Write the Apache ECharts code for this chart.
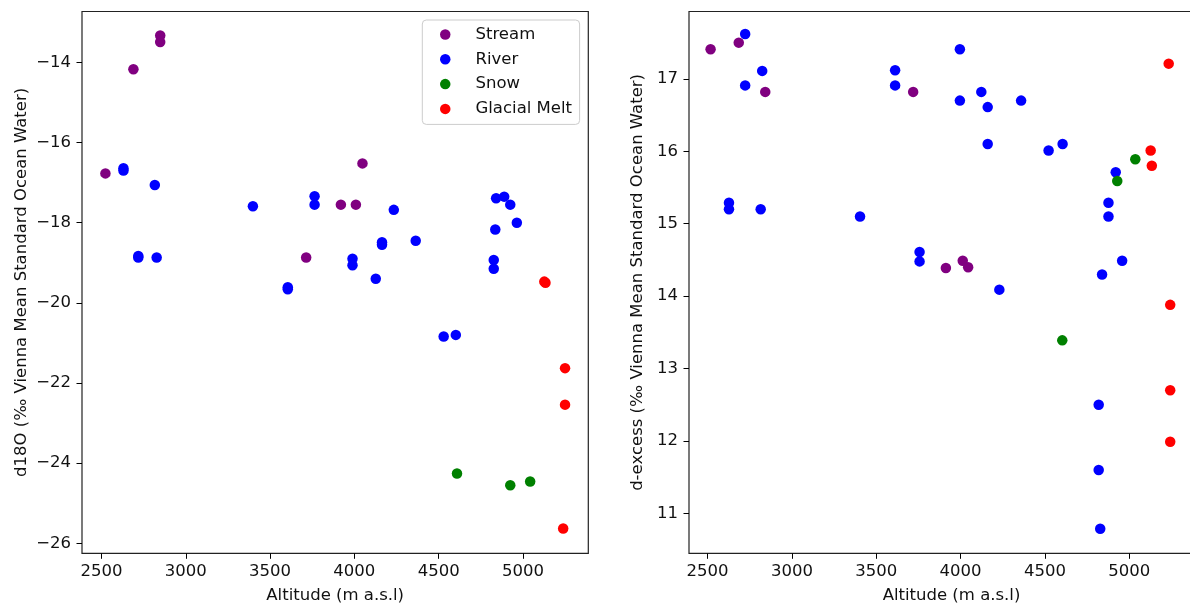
<!DOCTYPE html>
<html>
<head>
<meta charset="utf-8">
<script src="https://cdn.jsdelivr.net/npm/echarts@6/dist/echarts.min.js"></script>
<style>
html,body{margin:0;padding:0;background:#fff;}
#chart{width:1190px;height:608px;}
</style>
</head>
<body>
<div id="chart"></div>
<script>
// ---- Data ----
const categories = ['Stream', 'River', 'Snow', 'Glacial Melt'];
const colors = ['#800080', '#0000ff', '#008000', '#ff0000'];

// Left panel: d18O vs altitude
const streamAltL = [2523, 2689, 2848, 2848, 3714, 3920, 4009, 4048];
const streamD18O = [-16.77, -14.17, -13.33, -13.49, -18.87, -17.55, -17.55, -16.52];
const riverAltL = [2630, 2630, 2816, 2718, 2718, 2827, 3398, 3605, 3605, 3764, 3764, 3989, 3989, 4127, 4164, 4164, 4234, 4364, 4841, 4889, 4925, 4836, 4964, 4827, 4827, 4530, 4602];
const riverD18O = [-16.64, -16.70, -17.06, -18.83, -18.87, -18.87, -17.59, -19.61, -19.66, -17.34, -17.55, -18.90, -19.06, -19.40, -18.49, -18.55, -17.68, -18.45, -17.39, -17.35, -17.55, -18.17, -18.00, -18.93, -19.15, -20.84, -20.80];
const snowAltL = [4609, 4925, 5043];
const snowD18O = [-24.26, -24.55, -24.46];
const meltAltL = [5127, 5134, 5250, 5250, 5239];
const meltD18O = [-19.47, -19.50, -21.63, -22.54, -25.63];

// Right panel: d-excess vs altitude
const streamAltR = [2518, 2685, 2842, 3719, 3913, 4013, 4045];
const streamDex = [17.41, 17.50, 16.82, 16.82, 14.39, 14.49, 14.40];
const riverAltR = [2723, 2824, 2723, 2627, 2627, 2815, 3404, 3612, 3612, 3757, 3757, 3996, 3996, 4123, 4161, 4161, 4230, 4359, 4522, 4605, 4920, 4877, 4877, 4958, 4839, 4819, 4819, 4828];
const riverDex = [17.62, 17.11, 16.91, 15.29, 15.20, 15.20, 15.10, 17.12, 16.91, 14.61, 14.48, 17.41, 16.70, 16.82, 16.61, 16.10, 14.09, 16.70, 16.01, 16.10, 15.71, 15.29, 15.10, 14.49, 14.30, 12.50, 11.60, 10.79];
const snowAltR = [4603, 4929, 5036];
const snowDex = [13.39, 15.59, 15.89];
const meltAltR = [5234, 5127, 5134, 5243, 5243, 5243];
const meltDex = [17.21, 16.01, 15.80, 13.88, 12.70, 11.99];

// Tick labels
const xTicks = [2500, 3000, 3500, 4000, 4500, 5000];
const yTicksL = [-26, -24, -22, -20, -18, -16, -14];
const yTicksR = [11, 12, 13, 14, 15, 16, 17];

// Titles
const xName = 'Altitude (m a.s.l)';
const yNameL = 'd18O (\u2030 Vienna Mean Standard Ocean Water)';
const yNameR = 'd-excess (\u2030 Vienna Mean Standard Ocean Water)';

// ---- Build chart ----
const FONT = 'DejaVu Sans';
const FS = 16.5;
const TXT = '#111';
const fmt = v => String(v).replace('-', '\u2212');
const zip = (xs, ys) => xs.map((x, i) => [x, ys[i]]);

function xAxis(idx, min, max) {
  return {
    type: 'value', gridIndex: idx, min: min, max: max,
    name: xName, nameLocation: 'middle', nameGap: 34,
    nameTextStyle: {fontFamily: FONT, fontSize: FS, color: TXT},
    splitLine: {show: false},
    axisLine: {show: false},
    axisTick: {show: true, inside: false, length: 5.5, customValues: xTicks, lineStyle: {color: '#000', width: 1}},
    axisLabel: {customValues: xTicks, formatter: fmt, margin: 10, fontFamily: FONT, fontSize: FS, color: TXT}
  };
}
function yAxis(idx, min, max, ticks, name, gap) {
  return {
    type: 'value', gridIndex: idx, min: min, max: max,
    name: name, nameLocation: 'middle', nameGap: gap, nameRotate: 90,
    nameTextStyle: {fontFamily: FONT, fontSize: FS, color: TXT},
    splitLine: {show: false},
    axisLine: {show: false},
    axisTick: {show: true, inside: false, length: 5.5, customValues: ticks, lineStyle: {color: '#000', width: 1}},
    axisLabel: {customValues: ticks, formatter: fmt, margin: 11, fontFamily: FONT, fontSize: FS, color: TXT}
  };
}
function scat(i, data, gi) {
  return {
    type: 'scatter', name: categories[i], xAxisIndex: gi, yAxisIndex: gi,
    data: data, symbol: 'circle', symbolSize: 10.5,
    itemStyle: {color: colors[i], opacity: 1},
    z: 2 + i, silent: true
  };
}

const option = {
  animation: false,
  backgroundColor: '#fff',
  grid: [
    {left: 82, top: 11.5, width: 506.3, height: 541.8, show: true, borderColor: '#222', borderWidth: 1.2, backgroundColor: 'transparent', outerBoundsMode: 'none'},
    {left: 689, top: 11.5, width: 525, height: 541.8, show: true, borderColor: '#222', borderWidth: 1.2, backgroundColor: 'transparent', outerBoundsMode: 'none'}
  ],
  xAxis: [xAxis(0, 2384, 5388), xAxis(1, 2390, 5502.6)],
  yAxis: [
    yAxis(0, -26.25, -12.73, yTicksL, yNameL, 52),
    yAxis(1, 10.45, 17.93, yTicksR, yNameR, 43)
  ],
  legend: {
    data: categories,
    orient: 'vertical',
    left: 422.3, top: 20,
    padding: [6, 7.6, 7, 17.7],
    itemGap: 7.8,
    itemWidth: 10.5, itemHeight: 10.5,
    icon: 'circle',
    backgroundColor: 'rgba(255,255,255,0.8)',
    borderColor: '#cccccc', borderWidth: 1, borderRadius: 4,
    selectedMode: false,
    textStyle: {fontFamily: FONT, fontSize: FS, color: TXT, lineHeight: 16, padding: [0, 0, 0, 20]}
  },
  series: [
    scat(0, zip(streamAltL, streamD18O), 0),
    scat(1, zip(riverAltL, riverD18O), 0),
    scat(2, zip(snowAltL, snowD18O), 0),
    scat(3, zip(meltAltL, meltD18O), 0),
    scat(0, zip(streamAltR, streamDex), 1),
    scat(1, zip(riverAltR, riverDex), 1),
    scat(2, zip(snowAltR, snowDex), 1),
    scat(3, zip(meltAltR, meltDex), 1)
  ]
};

const chart = echarts.init(document.getElementById('chart'), null, {renderer: 'canvas'});
chart.setOption(option);
</script>
</body>
</html>
